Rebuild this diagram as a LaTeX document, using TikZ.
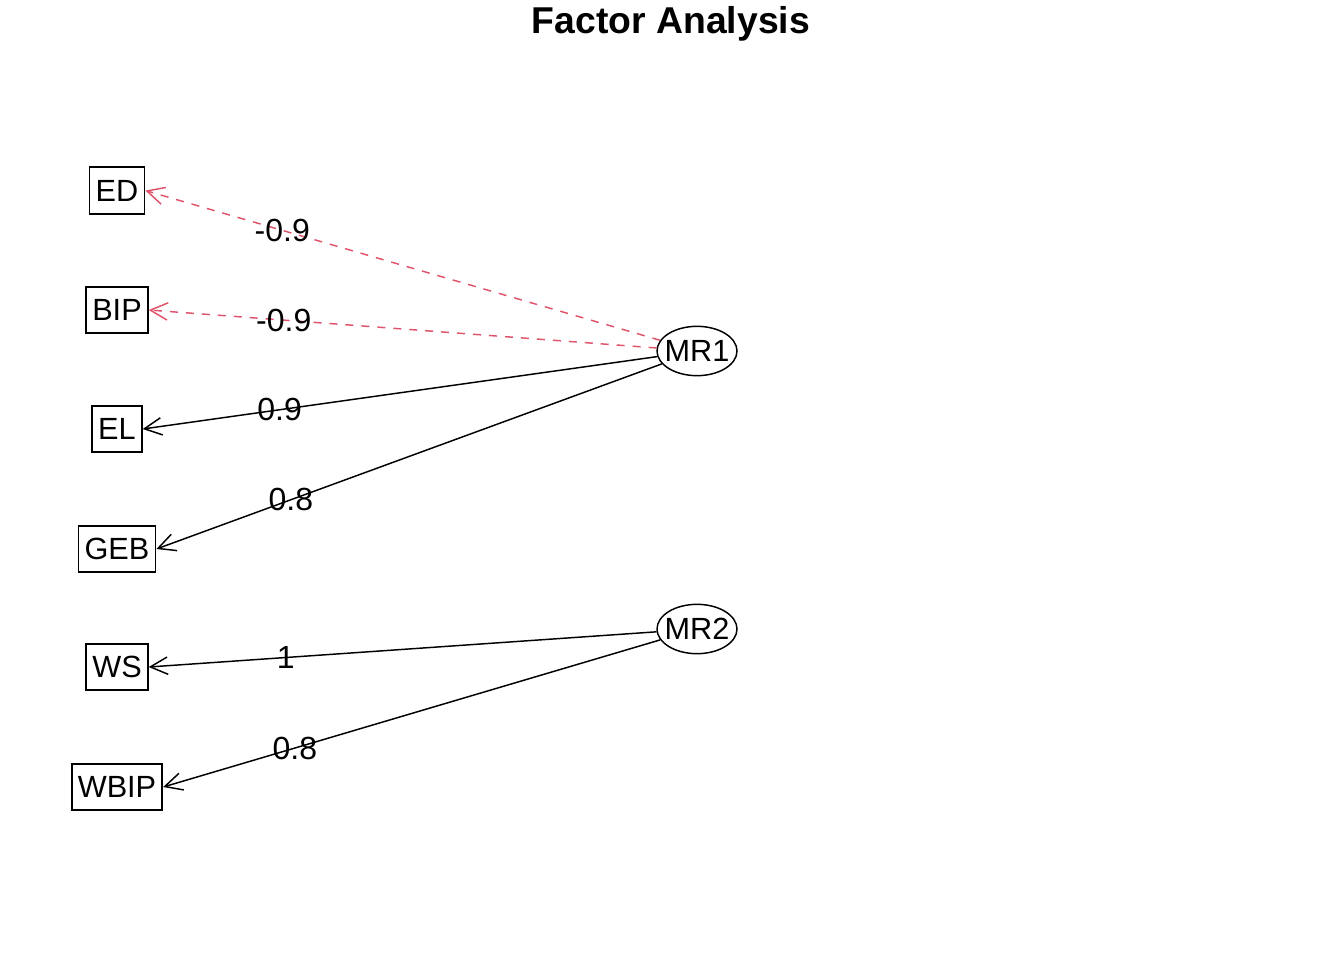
\documentclass[tikz,border=0pt]{standalone}
\usepackage{fontspec}
\setmainfont{Liberation Sans}
\usetikzlibrary{shapes.geometric,arrows.meta}
\definecolor{rred}{HTML}{DF536B}
\tikzset{
  obs/.style={draw, line width=1.3pt, rectangle, minimum height=35pt, inner xsep=4.6pt, inner ysep=0pt, font=\fontsize{23}{23}\selectfont},
  fac/.style={draw, line width=1.1pt, ellipse, minimum width=60pt, minimum height=37pt, inner sep=0pt, font=\fontsize{23}{23}\selectfont},
  load/.style={line width=1.1pt, -{Straight Barb[length=13pt,width=13pt,line width=1.1pt]}},
  neg/.style={load, rred, dash pattern=on 6pt off 6pt},
  lbl/.style={inner sep=0pt, text=black, font=\fontsize{24}{24}\selectfont}
}
\begin{document}
\begin{tikzpicture}[x=0.75pt,y=-0.75pt]
\useasboundingbox (0,0) rectangle (1344,960);
\node[font=\fontsize{28}{28}\selectfont\bfseries] (title) at (671,24) {Factor Analysis};
\node[obs] (ED) at (117,190.5) {ED};
\node[obs] (BIP) at (117,310) {BIP};
\node[obs] (EL) at (117,429) {EL};
\node[obs] (GEB) at (117,549) {GEB};
\node[obs] (WS) at (117,667) {WS};
\node[obs] (WBIP) at (117,787) {WBIP};
\node[fac] (MR1) at (697,351) {\makebox[0pt]{MR1}};
\node[fac] (MR2) at (697,629) {\makebox[0pt]{MR2}};
\draw[neg] (MR1) -- (ED.east) node[lbl, pos=0.734] (l1) {-0.9};
\draw[neg] (MR1) -- (BIP.east) node[lbl, pos=0.734] (l2) {-0.9};
\draw[load] (MR1) -- (EL.east) node[lbl, pos=0.734] (l3) {0.9};
\draw[load] (MR1) -- (GEB.east) node[lbl, pos=0.734] (l4) {0.8};
\draw[load] (MR2) -- (WS.east) node[lbl, pos=0.73] (l5) {1};
\draw[load] (MR2) -- (WBIP.east) node[lbl, pos=0.735] (l6) {0.8};
\end{tikzpicture}
\end{document}
